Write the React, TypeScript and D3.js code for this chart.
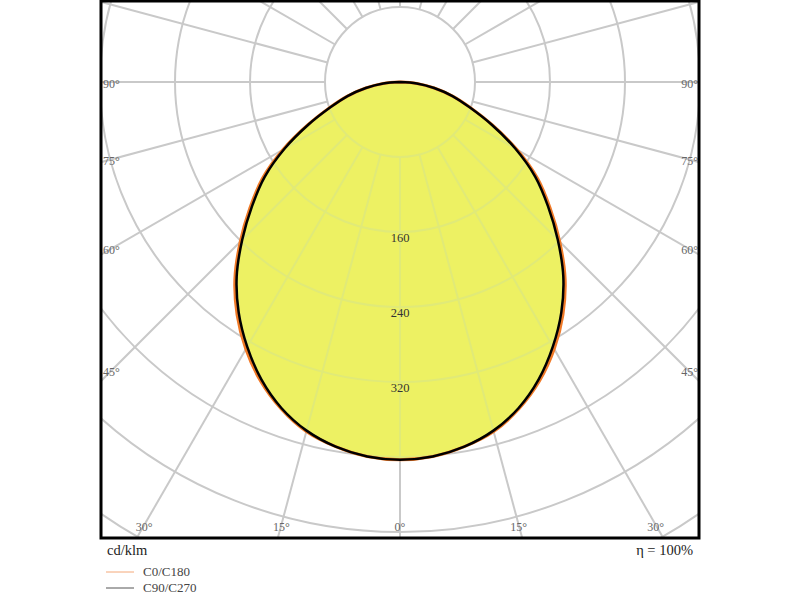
import React from "react";
import * as d3 from "d3";

// luminous intensity (cd/klm) by gamma angle, 0 = straight down
const gammaAngles = [0, 5, 10, 15, 20, 25, 30, 35, 40, 45, 50, 55, 60, 65, 70, 75, 80, 85, 90];
const c0c180 = [403, 401, 395, 386, 371, 352, 329, 303, 274, 241, 209, 179, 144, 109, 80, 58, 37, 18, 0];
const c90c270 = [403, 401, 395, 385, 370, 350, 326, 300, 271, 238, 206, 176, 142, 108, 79, 58, 37, 18, 0];

const ringValues = [80, 160, 240, 320, 400, 480, 560];
const ringLabels = [160, 240, 320];
const sideAngleLabels = [90, 75, 60, 45];
const bottomAngleLabels = [-30, -15, 0, 15, 30];
const legendItems = ["C0/C180", "C90/C270"];

const W = 800;
const H = 600;
const frame = { x: 101, y: 1, w: 598, h: 537 };
const cx = 400;
const cy = 82;
const FONT = "'Liberation Serif', 'Times New Roman', serif";

const r = d3.scaleLinear().domain([0, 80]).range([0, 75]);
const rad = (deg: number) => (deg * Math.PI) / 180;

type Pt = { g: number; v: number };
const fullCurve = (vals: number[]): Pt[] => {
  const left = gammaAngles.map((g, i) => ({ g: -g, v: vals[i] })).reverse();
  const right = gammaAngles.slice(1).map((g, i) => ({ g, v: vals[i + 1] }));
  return [...left, ...right];
};

const radial = d3
  .lineRadial<Pt>()
  .angle((d) => Math.PI - rad(d.g))
  .radius((d) => r(d.v))
  .curve(d3.curveCatmullRom);

const spokes = d3.range(0, 360, 15);

function Grid({ opacity, color }: { opacity: number; color: string }) {
  return (
    <g stroke={color} strokeWidth={2} fill="none" opacity={opacity}>
      {ringValues.map((v) => (
        <circle key={v} cx={cx} cy={cy} r={r(v)} />
      ))}
      {spokes.map((a) => {
        const s = Math.sin(rad(a));
        const c = Math.cos(rad(a));
        return (
          <line
            key={a}
            x1={cx + s * r(80)}
            y1={cy + c * r(80)}
            x2={cx + s * 800}
            y2={cy + c * 800}
          />
        );
      })}
    </g>
  );
}

export default function App() {
  const c0Path = radial(fullCurve(c0c180)) ?? "";
  const c90Path = radial(fullCurve(c90c270)) ?? "";
  const sideX = 112;
  const bottomY = 525;

  return (
    <svg
      width={W}
      height={H}
      style={{ position: "absolute", left: 0, top: 0, background: "#fff" }}
      fontFamily={FONT}
    >
      <defs>
        <clipPath id="frameClip">
          <rect x={frame.x} y={frame.y} width={frame.w} height={frame.h} />
        </clipPath>
        <clipPath id="curveClip">
          <path d={c0Path} transform={`translate(${cx},${cy})`} />
        </clipPath>
      </defs>

      <g clipPath="url(#frameClip)">
        <Grid opacity={1} color="#c9c9c9" />
        <g transform={`translate(${cx},${cy})`}>
          <path d={c0Path} fill="#edf163" stroke="none" />
        </g>
        <g clipPath="url(#curveClip)">
          <Grid opacity={0.32} color="#c4dca4" />
        </g>
        <g transform={`translate(${cx},${cy})`} fill="none">
          <path d={c0Path} stroke="#f07a28" strokeWidth={3} />
          <path d={c90Path} stroke="#000" strokeWidth={2.5} />
        </g>

        {ringLabels.map((v) => (
          <text
            key={v}
            x={cx}
            y={cy + r(v) + 10}
            textAnchor="middle"
            fontSize={12.5}
            fill="#333"
          >
            {v}
          </text>
        ))}

        {sideAngleLabels.map((a) => {
          const dy = (cx - sideX) / Math.tan(rad(a));
          return (
            <g key={a} fontSize={12} fill="#666">
              <text x={103} y={cy + dy + 3} dominantBaseline="middle">
                {a}°
              </text>
              <text x={698} y={cy + dy + 3} dominantBaseline="middle" textAnchor="end">
                {a}°
              </text>
            </g>
          );
        })}
        {bottomAngleLabels.map((a) => {
          const dx = (bottomY - cy) * Math.tan(rad(a));
          return (
            <text
              key={a}
              x={cx + dx}
              y={bottomY + 3}
              dominantBaseline="middle"
              textAnchor="middle"
              fontSize={12}
              fill="#666"
            >
              {Math.abs(a)}°
            </text>
          );
        })}
      </g>

      <rect
        x={frame.x}
        y={frame.y}
        width={frame.w}
        height={frame.h}
        fill="none"
        stroke="#000"
        strokeWidth={3}
      />

      <text x={107} y={555} fontSize={14.5} fill="#222">
        cd/klm
      </text>
      <text x={693} y={555} fontSize={14.5} fill="#222" textAnchor="end">
        η = 100%
      </text>

      {legendItems.map((name, i) => (
        <g key={name} transform={`translate(0,${572 + i * 16})`}>
          <line
            x1={106}
            x2={134}
            y1={0}
            y2={0}
            stroke={i === 0 ? "#f4a878" : "#555"}
            strokeWidth={1}
          />
          <text x={143} y={4} fontSize={13} fill="#444">
            {name}
          </text>
        </g>
      ))}
    </svg>
  );
}
